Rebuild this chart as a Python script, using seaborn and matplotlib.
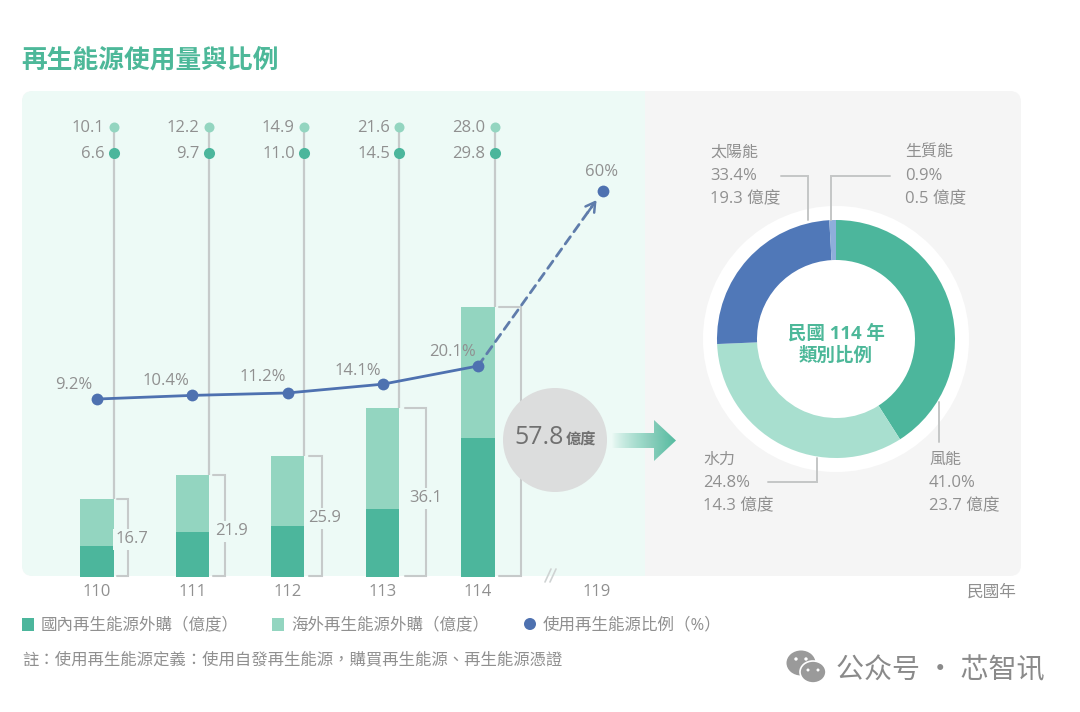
import numpy as np
import pandas as pd
import matplotlib
matplotlib.use("Agg")
import matplotlib.pyplot as plt
from matplotlib.patches import Circle, Ellipse, FancyBboxPatch, Polygon, Rectangle
from matplotlib.transforms import ScaledTranslation
import seaborn as sns

# Values
years = [110, 111, 112, 113, 114]
domestic = [6.6, 9.7, 11.0, 14.5, 29.8]
overseas = [10.1, 12.2, 14.9, 21.6, 28.0]
totals = [16.7, 21.9, 25.9, 36.1, 57.8]
share = [9.2, 10.4, 11.2, 14.1, 20.1]
target_year = 119
target_share = 60
grand_total = "57.8"

# ring as drawn: the light arc is the long one, the printed labels say otherwise
ring_values = [41.0, 33.4, 24.8, 0.9]
ring_colors = ["#4CB69C", "#A8DFCF", "#5078B8", "#8FAEDB"]

FIG_W, FIG_H = 1080, 712
BASE_Y = 577
PANEL_TOP = 91
MINT_RIGHT = 645
PX_PER_UNIT = 4.67

DARK = "#4CB69C"
LIGHT = "#93D5C0"
BLUE = "#4E71B0"
TITLE_GREEN = "#4DB899"
GREY_TEXT = "#909090"
RULE = "#C6CACA"
MINT_BG = "#EDFAF6"
GREY_BG = "#F5F5F5"
LATIN_CJK = ["Open Sans", "Noto Sans CJK TC", "DejaVu Sans"]

sns.set_theme(style="white")
plt.rcParams["font.family"] = LATIN_CJK

fig = plt.figure(figsize=(FIG_W / 100, FIG_H / 100), dpi=100, facecolor="white")


def px_axes(zorder):
    a = fig.add_axes([0, 0, 1, 1], zorder=zorder)
    a.set_xlim(0, FIG_W)
    a.set_ylim(FIG_H, 0)
    a.set_axis_off()
    a.patch.set_alpha(0)
    return a


bg = px_axes(0)
fg = px_axes(5)

# background panels
bg.add_patch(FancyBboxPatch((22, PANEL_TOP), 999, BASE_Y - 1 - PANEL_TOP,
                            boxstyle="round,pad=0,rounding_size=11", fc=GREY_BG, ec="none"))
mint = FancyBboxPatch((22, PANEL_TOP), 999, BASE_Y - 1 - PANEL_TOP,
                      boxstyle="round,pad=0,rounding_size=11", fc=MINT_BG, ec="none")
bg.add_patch(mint)
mint.set_clip_path(Rectangle((22, PANEL_TOP), MINT_RIGHT - 22, 500, transform=bg.transData))

# main chart axes
ax = fig.add_axes([22 / FIG_W, 1 - BASE_Y / FIG_H, (MINT_RIGHT - 22) / FIG_W,
                   (BASE_Y - PANEL_TOP) / FIG_H], zorder=2)
ax.patch.set_alpha(0)

df = pd.DataFrame({"year": years, "domestic": domestic, "total": totals, "share": share})

sns.barplot(data=df, x="year", y="total", native_scale=True, width=0.35, color=LIGHT,
            saturation=1, linewidth=0, ax=ax, zorder=3)
sns.barplot(data=df, x="year", y="domestic", native_scale=True, width=0.35, color=DARK,
            saturation=1, linewidth=0, ax=ax, zorder=4)

# stems with the two dots above each bar
px = fig.dpi_scale_trans
edge = ax.transData + ScaledTranslation(16.5 / 100, 0, px)
row_light = (BASE_Y - 127) / PX_PER_UNIT
row_dark = (BASE_Y - 153) / PX_PER_UNIT
ax.vlines(years, totals, row_light, color=RULE, lw=1.6, transform=edge, zorder=1)
ax.plot(years, [row_light] * 5, "o", ms=7.2, color=LIGHT, mec="none", transform=edge, zorder=2)
ax.plot(years, [row_dark] * 5, "o", ms=8, color=DARK, mec="none", transform=edge, zorder=2)

# share of renewables, own y scale because of the axis break
ax2 = ax.twinx()
ax2.set_zorder(3)
ax2.patch.set_alpha(0)
sns.lineplot(data=df, x="year", y="share", color=BLUE, lw=2, marker="o", ms=8.5, mec="none",
             errorbar=None, ax=ax2, zorder=6)
ax2.plot([target_year], [target_share], "o", ms=8.5, color=BLUE, mec="none", zorder=6)
ax2.annotate("", xy=(target_year, target_share), xytext=(years[-1], share[-1]),
             arrowprops=dict(arrowstyle="-", color="#5F7CAB", lw=2, linestyle=(0, (3.2, 2.2)),
                             shrinkA=0, shrinkB=14))
ax2.annotate("", xy=(target_year, target_share), xytext=(-11, -15.5), textcoords="offset points",
             arrowprops=dict(arrowstyle="->,head_length=0.55,head_width=0.32", color="#5F7CAB",
                             lw=1.8, shrinkA=0, shrinkB=8))

# the axis is broken after 114, the bars keep their width up to 114.5
k_year = [100, 114.5, 119, 130]
k_year_pos = [100, 114.5, 114 + 125 / 95.25, 114 + 125 / 95.25 + 11]
k_pct = [-100, 20.1, 60, 200]
k_pct_pos = [-100, 20.1, 20.1 + 175 / 3.03, 20.1 + 175 / 3.03 + 140]


def year_fwd(v):
    return np.interp(v, k_year, k_year_pos)


def year_inv(v):
    return np.interp(v, k_year_pos, k_year)


def pct_fwd(v):
    return np.interp(v, k_pct, k_pct_pos)


def pct_inv(v):
    return np.interp(v, k_pct_pos, k_pct)


ax.set_xscale("function", functions=(year_fwd, year_inv))
ax.set_xlim(110 - 75 / 95.25, float(year_inv(114 + (MINT_RIGHT - 478) / 95.25)))
ax.set_ylim(0, (BASE_Y - PANEL_TOP) / PX_PER_UNIT)
ax2.set_yscale("function", functions=(pct_fwd, pct_inv))
ax2.set_ylim(float(pct_inv(20.1 - (BASE_Y - 366) / 3.03)), float(pct_inv(20.1 + (366 - PANEL_TOP) / 3.03)))

# brackets right of the bars, drawn once the scales are final
bracket_gap = [20, 21, 21, 22, 21]
bracket_len = [31, 33, 34, 43, 43]
to_data = ax.transData.inverted()
for yr, tot, gap, blen in zip(years, totals, bracket_gap, bracket_len):
    x_disp = ax.transData.transform((yr, 0))[0]
    xd0 = to_data.transform((x_disp + gap, 0))[0]
    xd1 = to_data.transform((x_disp + blen, 0))[0]
    ax.plot([xd0, xd1, xd1, xd0], [0.25, 0.25, tot, tot], color=RULE, lw=1.5, zorder=1,
            solid_joinstyle="miter", clip_on=False)

ax.set_xticks(years + [target_year])
ax.set_xticklabels([str(y) for y in years + [target_year]], fontsize=12, color=GREY_TEXT)
ax.minorticks_off()
ax.tick_params(axis="x", length=0, pad=5)
ax.xaxis.get_ticklabels()[-1].set_transform(
    ax.xaxis.get_ticklabels()[-1].get_transform() + ScaledTranslation(-6 / 100, 0, px))
ax.set_yticks([])
ax.set_xlabel("")
ax.set_ylabel("")
ax2.set_ylabel("")
ax2.set_yticks([])
sns.despine(ax=ax, left=True, bottom=True)
sns.despine(ax=ax2, left=True, bottom=True)


def txt(x, y, s, size=12, color=GREY_TEXT, ha="left", **kw):
    return fg.text(x, y, s, fontsize=size, color=color, ha=ha, va="center", **kw)


# title
txt(21, 60, "再生能源使用量與比例", size=18.5, color=TITLE_GREEN, fontweight="bold")

# dot and share labels
for i, yr in enumerate(years):
    dot_x = 113.5 + 95.2 * i
    txt(dot_x - 9, 128, f"{overseas[i]:.1f}", ha="right")
    txt(dot_x - 9, 154, f"{domestic[i]:.1f}", ha="right")

share_pos = [(74, 385), (166, 381), (263, 377), (358, 371), (452, 352)]
for (sx, sy), val in zip(share_pos, share):
    txt(sx, sy, f"{val}%", ha="center")
txt(602, 172, f"{target_share}%", ha="center")

bracket_txt = [(132, 539), (231, 531), (325, 518), (426, 498)]
for (bx, by), tot in zip(bracket_txt, totals):
    txt(bx, by, f"{tot}", ha="center",
        bbox=dict(fc=MINT_BG, ec="none", boxstyle="square,pad=0.15"))

# total circle and arrow
fg.add_patch(Circle((555, 440), 52, fc="#DCDDDD", ec="none"))
txt(514, 437, grand_total, size=18, color="#707070")
txt(566, 439, "億度", size=11, color="#707070", fontweight="bold")

grad = np.zeros((2, 256, 4))
grad[..., :3] = matplotlib.colors.to_rgb("#55BBA0")
grad[..., 3] = np.linspace(0, 1, 256) ** 0.8
arrow_shape = Polygon([(612, 433), (654, 433), (654, 420), (676, 440.5), (654, 461), (654, 448),
                       (612, 448)], transform=fg.transData, fc="none", ec="none")
im = fg.imshow(grad, extent=(612, 676, 462, 419), aspect="auto", zorder=1)
im.set_clip_path(arrow_shape)
fg.set_xlim(0, FIG_W)
fg.set_ylim(FIG_H, 0)

# break mark and axis note
fg.plot([545, 551], [582, 569], color="#CFD3D3", lw=1.2)
fg.plot([550, 556], [582, 569], color="#CFD3D3", lw=1.2)
txt(1017, 593, "民國年", size=12, ha="right")

# donut
RING_C = (836, 339)
HALO = 133
ROUT = 119
RIN = 79
ring = fig.add_axes([(RING_C[0] - HALO) / FIG_W, 1 - (RING_C[1] + HALO) / FIG_H,
                     2 * HALO / FIG_W, 2 * HALO / FIG_H], zorder=3)
ring.set_axis_off()
ring.add_patch(Circle((0, 0), HALO / ROUT, fc="white", ec="none"))
ring.pie(ring_values, colors=ring_colors, startangle=90, counterclock=False,
         wedgeprops=dict(width=(ROUT - RIN) / ROUT, linewidth=0))
ring.set_xlim(-HALO / ROUT, HALO / ROUT)
ring.set_ylim(-HALO / ROUT, HALO / ROUT)

txt(836, 333, "民國 114 年", size=13.3, color=TITLE_GREEN, ha="center", fontweight="bold")
txt(836, 356, "類別比例", size=13.3, color=TITLE_GREEN, ha="center", fontweight="bold")

ring_labels = [
    (710, 153, "太陽能", "33.4%", "19.3 億度"),
    (905, 153, "生質能", "0.9%", "0.5 億度"),
    (703, 460, "水力", "24.8%", "14.3 億度"),
    (929, 460, "風能", "41.0%", "23.7 億度"),
]
for lx, ly, name, pct, amount in ring_labels:
    txt(lx, ly, name, size=11.5)
    txt(lx, ly + 23, pct)
    txt(lx, ly + 46, amount)

leaders = [
    ([781, 808, 808], [176, 176, 220]),
    ([890, 831, 831], [176, 176, 220]),
    ([768, 817, 817], [482, 482, 458]),
    ([939, 939], [402, 442]),
]
for lx, ly in leaders:
    fg.plot(lx, ly, color="#C4C6C6", lw=1.4, solid_joinstyle="miter", zorder=1)

# legend
fg.add_patch(Rectangle((22, 618), 12, 13, fc=DARK, ec="none"))
txt(41, 625, "國內再生能源外購（億度）", size=11.9)
fg.add_patch(Rectangle((272, 618), 12, 13, fc=LIGHT, ec="none"))
txt(291, 625, "海外再生能源外購（億度）", size=11.9)
fg.add_patch(Circle((530, 624), 6, fc=BLUE, ec="none"))
txt(543, 625, "使用再生能源比例（%）", size=11.9)
txt(22, 660, "註：使用再生能源定義：使用自發再生能源，購買再生能源、再生能源憑證", size=11.8)

# watermark
fg.add_patch(Ellipse((801, 663), 29, 25, fc="#9A9A9A", ec="none"))
fg.add_patch(Ellipse((813, 672), 26, 22, fc="#9A9A9A", ec="white", lw=1.2))
for ex, ey, er in [(796, 659, 1.7), (806, 659, 1.7), (808, 670, 1.5), (818, 670, 1.5)]:
    fg.add_patch(Circle((ex, ey), er, fc="white", ec="none"))
fg.text(836, 670, "公众号 · 芯智讯", fontsize=20.2, color="#8A8A8A", va="center", ha="left",
        family=["Noto Sans CJK SC", "DejaVu Sans"])

fig.savefig("out.png", dpi=100, facecolor="white")
